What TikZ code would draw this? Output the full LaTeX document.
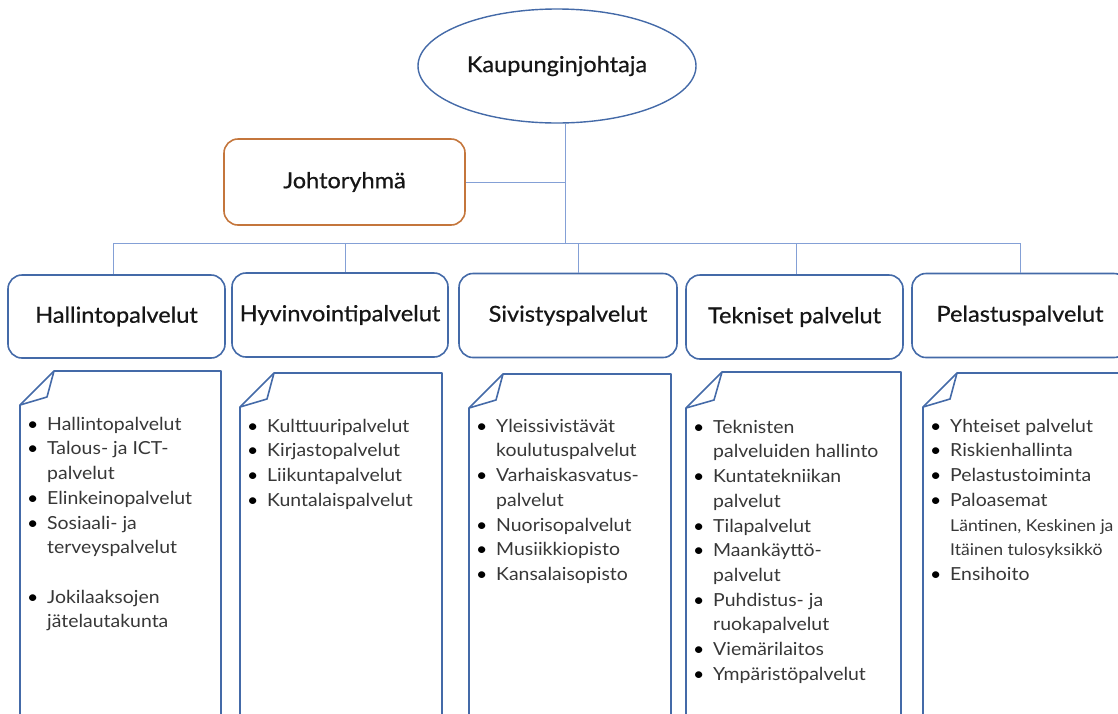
\documentclass[tikz,border=0pt]{standalone}
\usepackage{fontspec}
\setmainfont{Lato}[FakeStretch=1.08]
\newfontfamily\headfont{Lato}[FakeStretch=1.07, FakeBold=0.6]
\usetikzlibrary{shapes.geometric}
\definecolor{boxblue}{RGB}{68,106,168}
\definecolor{lineblue}{RGB}{132,160,214}
\definecolor{orng}{RGB}{196,118,60}
\definecolor{headtxt}{RGB}{22,22,22}
\definecolor{bodytxt}{RGB}{55,55,55}
\newcommand\itm[1]{\makebox[20pt][l]{\textcolor{black}{\textbullet}}#1}
\newcommand\cnt[1]{\hspace*{20pt}#1}
\begin{document}
\begin{tikzpicture}[x=1pt,y=-1pt,
  headtext/.style={font=\headfont\fontsize{22}{26}\selectfont, text=headtxt},
  unitbox/.style={draw=boxblue, line width=1.6pt, rounded corners=14pt, minimum width=216pt, minimum height=84pt, headtext, inner sep=0pt},
  conn/.style={draw=lineblue, line width=1pt},
  notebox/.style={draw=boxblue, line width=1.6pt, line join=round},
  listtext/.style={anchor=north west, align=left, inner sep=0pt, font=\fontsize{18}{24.7}\selectfont, text=bodytxt}
]
\path[use as bounding box] (0,0) rectangle (1118,713);
\clip (0,0) rectangle (1118,713);

% top nodes
\node[ellipse, draw=boxblue, line width=1.4pt, minimum width=278pt, minimum height=114pt, inner sep=0pt, headtext] (k) at (557,66) {\raisebox{3pt}{Kaupunginjohtaja}};
\node[draw=orng, line width=1.6pt, rounded corners=14pt, minimum width=241pt, minimum height=86pt, inner sep=0pt, headtext] (j) at (344.5,182) {Johtoryhmä};

% unit boxes
\node[unitbox, minimum width=217pt, minimum height=83pt] (h1) at (116.5,316.5) {Hallintopalvelut};
\node[unitbox] (h2) at (340,315) {Hyvinvointipalvelut};
\node[unitbox, minimum width=218pt] (h3) at (568,315.5) {Sivistyspalvelut};
\node[unitbox, minimum width=217pt] (h4) at (794.5,317) {Tekniset palvelut};
\node[unitbox] (h5) at (1020,315.5) {Pelastuspalvelut};

% connectors
\coordinate (bus) at (565,243);
\coordinate (d1) at (113,243);
\coordinate (d2) at (345,243);
\coordinate (d3) at (578,243);
\coordinate (d4) at (796,243);
\coordinate (d5) at (1020,243);
\draw[conn] (k.south -| bus) -- (bus);
\draw[conn] (j.east) -- (j.east -| bus);
\draw[conn] (d1) -- (d5);
\draw[conn] (d1) -- (d1 |- h1.north);
\draw[conn] (d2) -- (d2 |- h2.north);
\draw[conn] (d3) -- (d3 |- h3.north);
\draw[conn] (d4) -- (d4 |- h4.north);
\draw[conn] (d5) -- (d5 |- h5.north);

% note shapes
\draw[notebox] (54,371) -- (221,371) -- (221,730) -- (20,730) -- (20,405) -- cycle;
\draw[notebox] (20,405) -- (47,397) -- (54,371);
\draw[notebox] (274,373) -- (442,373) -- (442,730) -- (240,730) -- (240,407) -- cycle;
\draw[notebox] (240,407) -- (267,399) -- (274,373);
\draw[notebox] (503,374) -- (671,374) -- (671,730) -- (469,730) -- (469,408) -- cycle;
\draw[notebox] (469,408) -- (496,400) -- (503,374);
\draw[notebox] (722,372) -- (901,372) -- (901,730) -- (686,730) -- (686,408) -- cycle;
\draw[notebox] (686,408) -- (714,400) -- (722,372);
\draw[notebox] (957,373) -- (1140,373) -- (1140,730) -- (923,730) -- (923,407) -- cycle;
\draw[notebox] (923,407) -- (950,399) -- (957,373);

% lists
\node[listtext] (l1) at (27,412.7) {\strut\itm{Hallintopalvelut}\\
\itm{Talous- ja ICT-}\\
\cnt{palvelut}\\
\itm{Elinkeinopalvelut}\\
\itm{Sosiaali- ja}\\
\cnt{terveyspalvelut}\\[24.7pt]
\itm{Jokilaaksojen}\\
\cnt{jätelautakunta}};

\node[listtext] (l2) at (247,414.7) {\strut\itm{Kulttuuripalvelut}\\
\itm{Kirjastopalvelut}\\
\itm{Liikuntapalvelut}\\
\itm{Kuntalaispalvelut}};

\node[listtext] (l3) at (476,414.7) {\strut\itm{Yleissivistävät}\\
\cnt{koulutuspalvelut}\\
\itm{Varhaiskasvatus-}\\
\cnt{palvelut}\\
\itm{Nuorisopalvelut}\\
\itm{Musiikkiopisto}\\
\itm{Kansalaisopisto}};

\node[listtext] (l4) at (693,415.7) {\strut\itm{Teknisten}\\
\cnt{palveluiden hallinto}\\
\itm{Kuntatekniikan}\\
\cnt{palvelut}\\
\itm{Tilapalvelut}\\
\itm{Maankäyttö-}\\
\cnt{palvelut}\\
\itm{Puhdistus- ja}\\
\cnt{ruokapalvelut}\\
\itm{Viemärilaitos}\\
\itm{Ympäristöpalvelut}};

\node[listtext] (l5) at (930,414.7) {\strut\itm{Yhteiset palvelut}\\
\itm{Riskienhallinta}\\
\itm{Pelastustoiminta}\\
\itm{Paloasemat}\\
\cnt{\fontsize{16.3}{23}\selectfont Läntinen, Keskinen ja}\\
\cnt{\fontsize{16.3}{23}\selectfont Itäinen tulosyksikkö}\\
\itm{Ensihoito}};
\end{tikzpicture}
\end{document}
